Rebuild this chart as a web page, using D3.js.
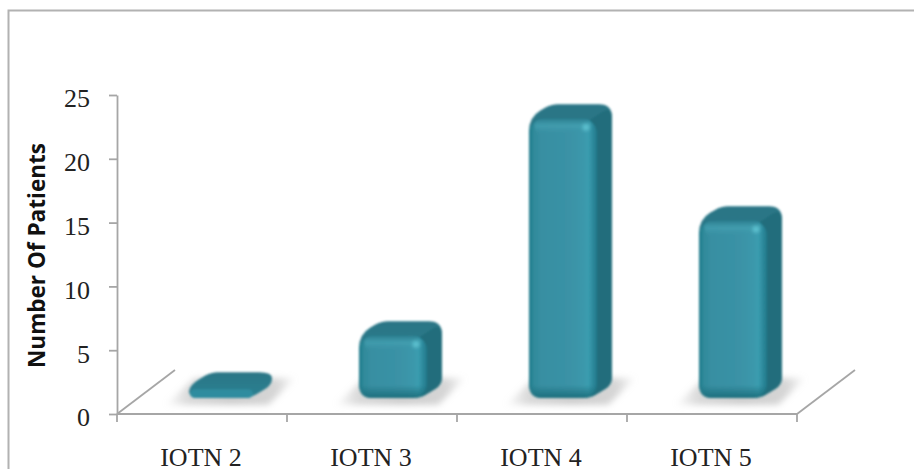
<!DOCTYPE html>
<html>
<head>
<meta charset="utf-8">
<script src="https://cdn.jsdelivr.net/npm/d3@7"></script>
<style>
html,body{margin:0;padding:0;background:#fff;overflow:hidden;}
svg{display:block;}
</style>
</head>
<body>
<svg id="chart" width="914" height="469"></svg>
<script>
const categories = ["IOTN 2", "IOTN 3", "IOTN 4", "IOTN 5"];
const patients = [1, 5, 22, 14];
const valueTicks = [0, 5, 10, 15, 20, 25];
const valueAxisTitle = "Number Of Patients";

const svg = d3.select("#chart");
const defs = svg.append("defs");

// Plot frame: the front floor edge and the height of the value axis
const x = d3.scaleBand().domain(categories).range([117, 797]).paddingInner(0).paddingOuter(0);
const y = d3.scaleLinear().domain([0, 25]).range([414, 95]);

// Oblique projection used for the floor and the bar depth
const floorDepth = { dx: 58, dy: -44 };
const barDepth = { dx: 22, dy: -13 };
const barInset = { left: 72, width: 61, lift: 16 };

// Gradients and blurs
const front = defs.append("linearGradient").attr("id", "frontFace");
[[0, "#1f7a8a"], [0.07, "#2f8a9a"], [0.18, "#388fa2"], [0.6, "#3a92a6"], [0.8, "#3b98ab"], [0.87, "#3a9db0"], [1, "#22788a"]]
  .forEach(([o, c]) => front.append("stop").attr("offset", o).attr("stop-color", c));

const bottomShade = defs.append("linearGradient").attr("id", "bottomShade").attr("x2", 0).attr("y2", 1);
bottomShade.append("stop").attr("offset", 0).attr("stop-color", "#1b6d7b").attr("stop-opacity", 0);
bottomShade.append("stop").attr("offset", 1).attr("stop-color", "#1b6d7b").attr("stop-opacity", 0.95);

const topShade = defs.append("linearGradient").attr("id", "topShade").attr("x2", 0).attr("y2", 1);
topShade.append("stop").attr("offset", 0).attr("stop-color", "#2c8192").attr("stop-opacity", 1);
topShade.append("stop").attr("offset", 0.45).attr("stop-color", "#44a0b1").attr("stop-opacity", 0.75);
topShade.append("stop").attr("offset", 1).attr("stop-color", "#3a93a6").attr("stop-opacity", 0);

const topFace = defs.append("linearGradient").attr("id", "topFace").attr("x2", 0).attr("y2", 1);
topFace.append("stop").attr("offset", 0).attr("stop-color", "#2a7686");
topFace.append("stop").attr("offset", 1).attr("stop-color", "#2c8192");

const sideFace = defs.append("linearGradient").attr("id", "sideFace");
sideFace.append("stop").attr("offset", 0).attr("stop-color", "#1f6d7b");
sideFace.append("stop").attr("offset", 1).attr("stop-color", "#226d7b");

const floorShadow = defs.append("linearGradient").attr("id", "floorShadow");
[[0, 0], [0.18, 0.6], [0.5, 0.8], [0.85, 0.65], [1, 0]].forEach(([o, a]) =>
  floorShadow.append("stop").attr("offset", o).attr("stop-color", "#c0c0c0").attr("stop-opacity", a));

function addBlur(id, deviation) {
  defs.append("filter").attr("id", id)
    .attr("x", "-50%").attr("y", "-80%").attr("width", "200%").attr("height", "260%")
    .append("feGaussianBlur").attr("stdDeviation", deviation);
}
addBlur("shadowBlur", 3);
addBlur("glintBlur", 1.8);
defs.append("filter").attr("id", "barSoft")
  .attr("x", "-5%").attr("y", "-5%").attr("width", "110%").attr("height", "110%")
  .append("feGaussianBlur").attr("stdDeviation", 0.8);

// Outer border of the figure, open on the right and at the bottom
svg.append("path")
  .attr("d", "M8.5,469V10.5H914")
  .attr("fill", "none").attr("stroke", "#b2b2b2").attr("stroke-width", 2);

// Value axis
const axisColor = "#a6a6a6";
const axisWeight = 1.8;
const valueAxis = svg.append("g").attr("transform", "translate(117,0)")
  .call(d3.axisLeft(y).tickValues(valueTicks).tickSize(8).tickSizeOuter(0).tickPadding(19));
valueAxis.selectAll("path,line").attr("stroke", axisColor).attr("stroke-width", axisWeight);
valueAxis.selectAll("text")
  .attr("font-family", "'Liberation Serif', serif").attr("font-size", 26).attr("fill", "#222")
  .attr("dy", "0.46em");

// Category axis, ticks fall between the categories
const catAxis = svg.append("g").attr("transform", "translate(0,414)");
catAxis.append("line").attr("x1", x.range()[0]).attr("x2", x.range()[1])
  .attr("stroke", axisColor).attr("stroke-width", axisWeight);
catAxis.selectAll("line.tick").data(categories.concat("end")).join("line").attr("class", "tick")
  .attr("x1", (d, i) => x.range()[0] + i * x.bandwidth())
  .attr("x2", (d, i) => x.range()[0] + i * x.bandwidth())
  .attr("y1", 0).attr("y2", 8)
  .attr("stroke", axisColor).attr("stroke-width", axisWeight);
catAxis.selectAll("text").data(categories).join("text")
  .attr("x", d => x(d) + x.bandwidth() / 2 - 1)
  .attr("y", 52)
  .attr("text-anchor", "middle")
  .attr("font-family", "'Liberation Serif', serif").attr("font-size", 26).attr("fill", "#222")
  .text(d => d);

// Receding floor edges
svg.selectAll("line.floor").data(x.range()).join("line").attr("class", "floor")
  .attr("x1", d => d).attr("y1", y(0))
  .attr("x2", d => d + floorDepth.dx).attr("y2", y(0) + floorDepth.dy)
  .attr("stroke", axisColor).attr("stroke-width", axisWeight);

// Value axis title
svg.append("text")
  .attr("transform", "translate(45,255.5) rotate(-90)")
  .attr("text-anchor", "middle")
  .attr("font-family", "'Open Sans', sans-serif").attr("font-weight", 700).attr("font-size", 23).attr("fill", "#111")
  .attr("textLength", 225).attr("lengthAdjust", "spacingAndGlyphs")
  .text(valueAxisTitle);

// Closed outline through the given vertices with each corner rounded by its own radius
function roundedPolygon(points) {
  const n = points.length;
  let path = "";
  points.forEach((p, i) => {
    const prev = points[(i + n - 1) % n], next = points[(i + 1) % n];
    const toward = (q) => {
      const dx = q[0] - p[0], dy = q[1] - p[1], len = Math.hypot(dx, dy);
      const t = Math.min(p[2], len / 2) / len;
      return [p[0] + dx * t, p[1] + dy * t];
    };
    const a = toward(prev), b = toward(next);
    path += `${i ? "L" : "M"}${a[0]},${a[1]}Q${p[0]},${p[1]} ${b[0]},${b[1]}`;
  });
  return path + "Z";
}

// Bars: a rounded box built from the value scale and the oblique projection
const rows = categories.map((c, i) => {
  const left = x(c) + barInset.left;
  const bottom = y(0) - barInset.lift;
  const top = y(patients[i]) - barInset.lift;
  return { c, v: patients[i], left, right: left + barInset.width, top, bottom, h: bottom - top };
});

const bars = svg.selectAll("g.bar").data(rows).join("g").attr("class", "bar");

// Cast shadow on the floor
bars.append("path")
  .attr("d", d => {
    const l = d.left - 24, rr = d.right + 46, b = d.bottom + 7, t = d.bottom - 20;
    return `M${l},${b}L${l + 30},${t}H${rr}L${rr - 28},${b}Z`;
  })
  .attr("fill", "url(#floorShadow)").attr("filter", "url(#shadowBlur)");

const solid = bars.append("g").attr("filter", "url(#barSoft)");

// Silhouette of the whole box, coloured as the top face
solid.append("path")
  .attr("d", d => roundedPolygon([
    [d.left, d.top, 14],
    [d.left + barDepth.dx, d.top + barDepth.dy, 7],
    [d.right + barDepth.dx, d.top + barDepth.dy, 13],
    [d.right + barDepth.dx, d.bottom + barDepth.dy, 8],
    [d.right, d.bottom, 8],
    [d.left, d.bottom, 14]
  ]))
  .attr("fill", "url(#topFace)");

const tall = solid.filter(d => d.h > 30);
const flat = solid.filter(d => d.h <= 30);

// Side face
tall.append("path")
  .attr("d", d => roundedPolygon([
    [d.right - 2, d.top + 4, 2],
    [d.right + barDepth.dx, d.top + barDepth.dy + 1, 13],
    [d.right + barDepth.dx, d.bottom + barDepth.dy, 8],
    [d.right, d.bottom, 6],
    [d.right - 2, d.bottom - 6, 2]
  ]))
  .attr("fill", "url(#sideFace)");

// Front face, wrapping a little past the front edge on tall bars
tall.append("rect")
  .attr("x", d => d.left)
  .attr("y", d => d.top + 2)
  .attr("width", barInset.width + 7)
  .attr("height", d => d.h - 2)
  .attr("rx", 14).attr("ry", 14)
  .attr("fill", "url(#frontFace)");

// On a low bar the front is only a thin rounded band
flat.append("rect")
  .attr("x", d => d.left + 1)
  .attr("y", d => d.top + 4)
  .attr("width", barInset.width + 2)
  .attr("height", d => d.h - 4)
  .attr("rx", 5).attr("ry", 5)
  .attr("fill", "#2f8c9f");

// Rounded transition from the top face into the front
tall.append("rect")
  .attr("x", d => d.left + 6).attr("y", d => d.top + 2)
  .attr("width", barInset.width - 6).attr("height", 15)
  .attr("rx", 6).attr("ry", 6)
  .attr("fill", "url(#topShade)");

// Darker rounding along the bottom of the front face
tall.append("path")
  .attr("d", d => {
    const R = d.left + barInset.width + 7, T = d.bottom - 13;
    return `M${d.left},${T}H${R}Q${R},${d.bottom} ${R - 13},${d.bottom}H${d.left + 13}Q${d.left},${d.bottom} ${d.left},${T}Z`;
  })
  .attr("fill", "url(#bottomShade)");

// Corner glint on tall bars
tall.append("circle")
  .attr("cx", d => d.right - 4).attr("cy", d => d.top + 10).attr("r", 3.5)
  .attr("fill", "#5cc0cf").attr("filter", "url(#glintBlur)");
</script>
</body>
</html>
